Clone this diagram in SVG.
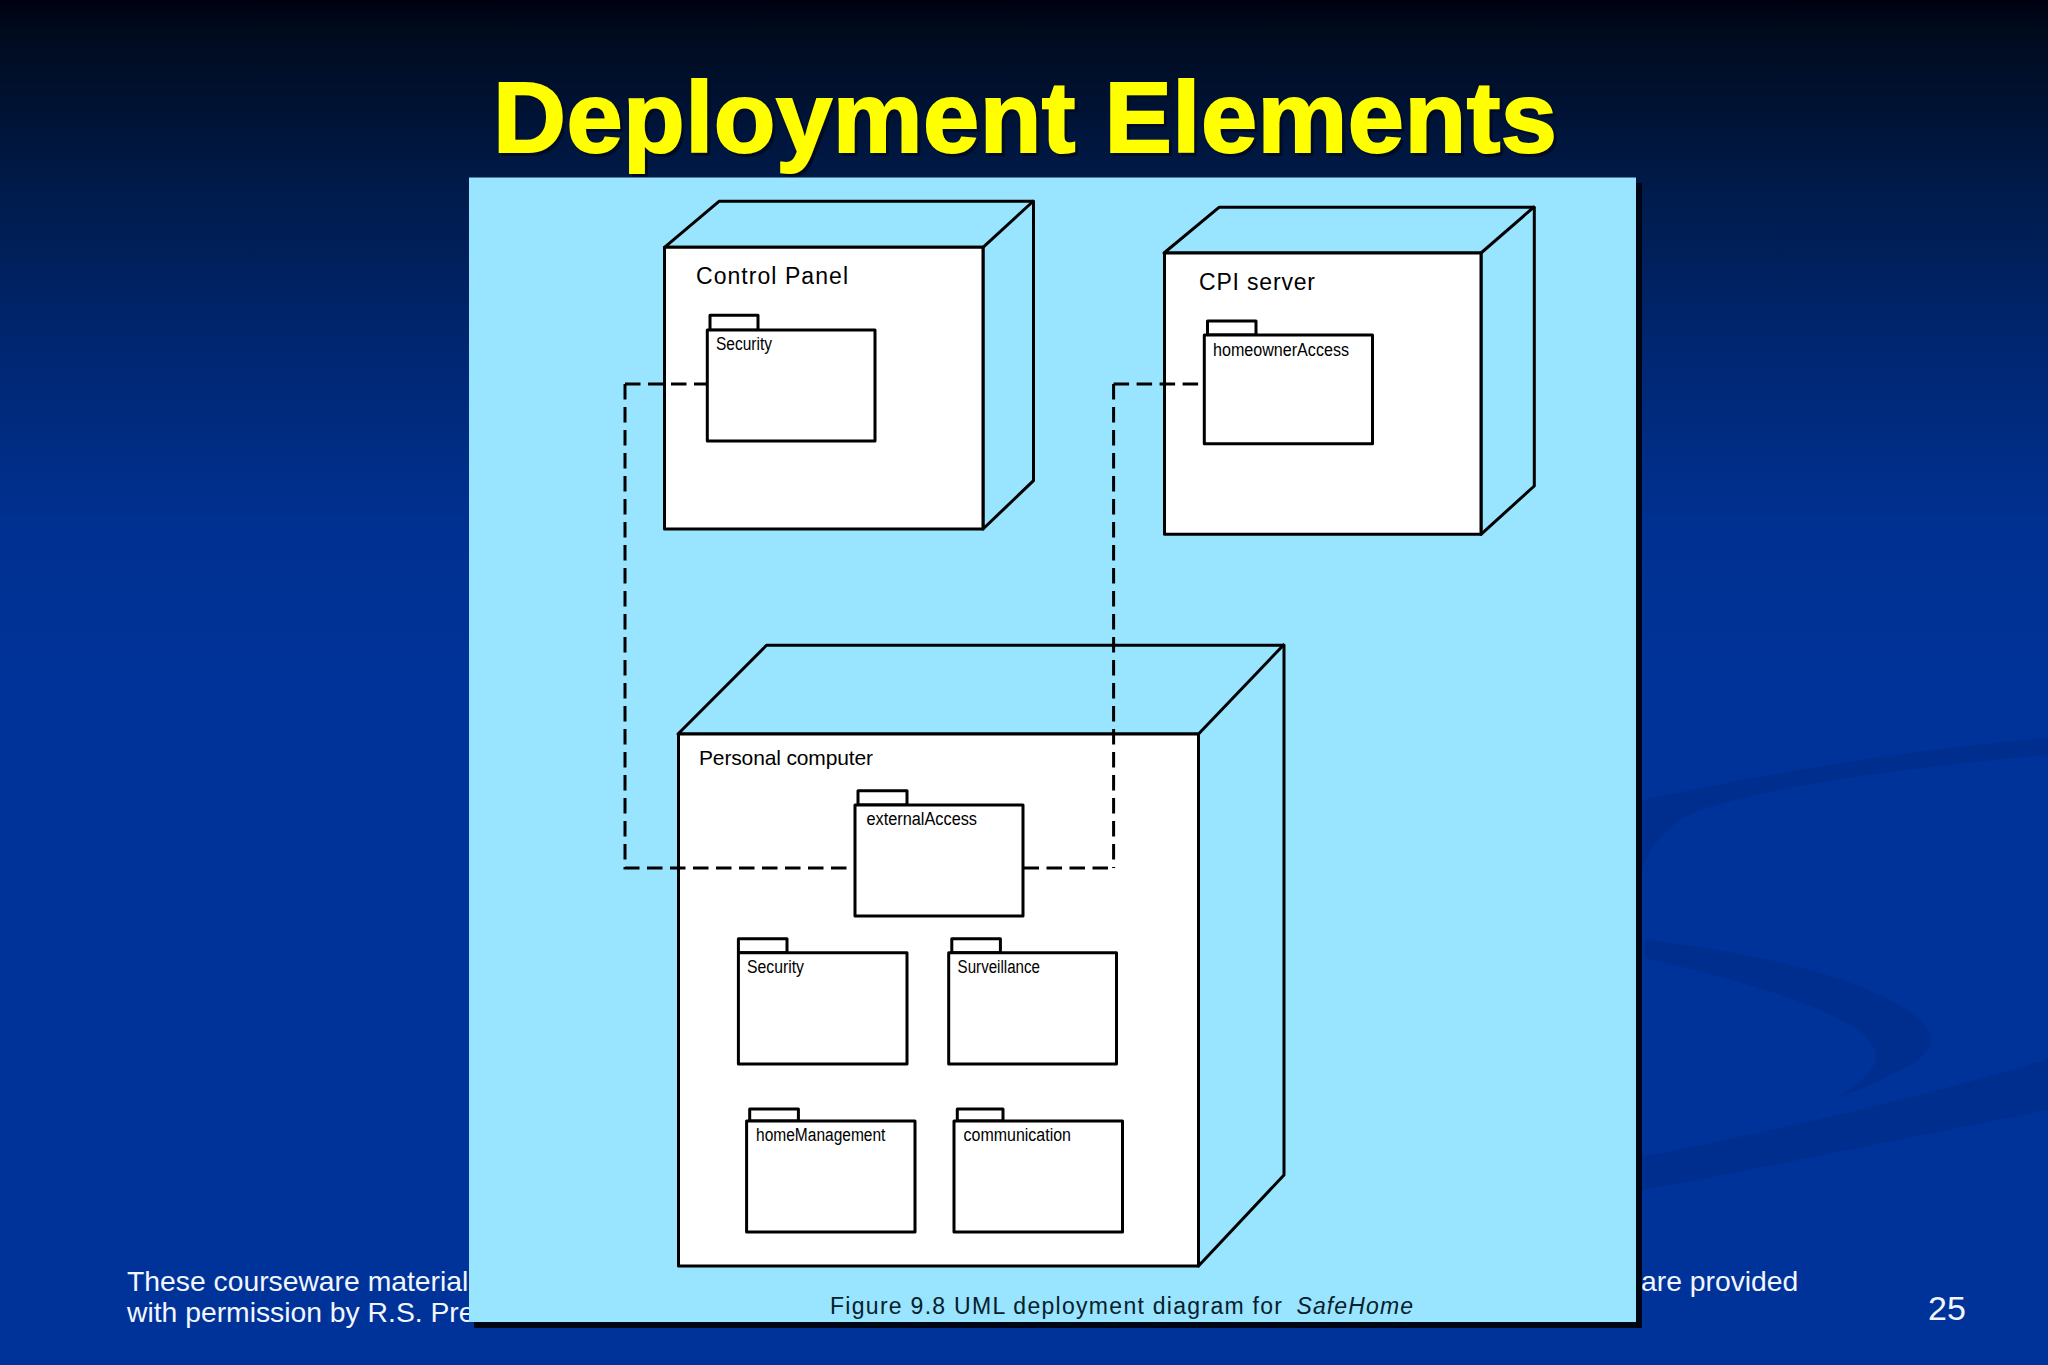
<svg xmlns="http://www.w3.org/2000/svg" width="2048" height="1365" viewBox="0 0 2048 1365">
<style>
.s{font-family:"Liberation Sans",Arial,sans-serif}
.box{fill:#fff;stroke:#000;stroke-width:3;stroke-linejoin:round}
.back{fill:#99e4fe;stroke:#000;stroke-width:3;stroke-linejoin:round}
.nl{font-size:23px;fill:#000}
.pl{font-size:18px;fill:#000}
.foot{font-size:28.300px;fill:#f2f6ff}
.dash{fill:none;stroke:#000;stroke-width:3;stroke-dasharray:15.5 7.5}
.sw{fill:#002e8f}
</style>
<defs>
<linearGradient id="bg" x1="0" y1="0" x2="0" y2="1">
<stop offset="0" stop-color="#000010"/>
<stop offset="0.02" stop-color="#000a1c"/>
<stop offset="0.09" stop-color="#001438"/>
<stop offset="0.16" stop-color="#001d52"/>
<stop offset="0.25" stop-color="#002670"/>
<stop offset="0.38" stop-color="#003090"/>
<stop offset="0.5" stop-color="#003399"/>
<stop offset="1" stop-color="#003399"/>
</linearGradient>
</defs>
<rect id="background" width="2048" height="1365" fill="url(#bg)"/>
<g id="swooshes">
<path class="sw" d="M1642 800C1760 775 1900 750 2048 738V755C1900 768 1780 785 1700 810C1670 822 1650 845 1642 870Z"/>
<path class="sw" d="M1645 940C1740 950 1860 975 1915 1015C1940 1035 1935 1055 1900 1070C1880 1082 1860 1090 1840 1096C1865 1080 1880 1065 1875 1050C1860 1015 1760 985 1645 958Z"/>
<path class="sw" d="M1642 1157C1780 1130 1930 1095 2048 1059V1110C1920 1135 1780 1165 1642 1190Z"/>
</g>
<text id="title-shadow" class="s" x="496" y="155" font-size="101" font-weight="700" fill="#000c26" stroke="#000c26" stroke-width="2" textLength="1064" lengthAdjust="spacing">Deployment Elements</text>
<text id="title" class="s" x="493" y="152" font-size="101" font-weight="700" fill="#ffff00" stroke="#ffff00" stroke-width="2" textLength="1064" lengthAdjust="spacing">Deployment Elements</text>
<text id="footer-1" class="s foot" x="127" y="1291">These courseware material</text>
<text id="footer-2" class="s foot" x="127" y="1322">with permission by R.S. Pre</text>
<text id="footer-3" class="s foot" x="1641" y="1291">are provided</text>
<text id="page" class="s" x="1928" y="1320" font-size="34" fill="#f2f6ff">25</text>
<rect id="panel-shadow" x="474" y="183" width="1168" height="1145" fill="#000614"/>
<rect id="panel" x="469" y="177.500" width="1167" height="1144.500" fill="#99e4fe"/>

<g id="node-control-panel">
<path class="back" d="M664.500 247.300L719 201.300H1033.500V480.700L983 529V247.300Z"/>
<path class="back" d="M983 247.300L1034 200.500" fill="none"/>
<rect class="box" x="664.500" y="247.300" width="318.500" height="281.700"/>
<text class="s nl" x="696" y="284" textLength="152" lengthAdjust="spacing">Control Panel</text>
<g id="pkg-security-cp">
<rect class="box" x="710" y="315.300" width="48" height="15"/>
<rect class="box" x="707.300" y="330" width="167.700" height="111"/>
<text class="s pl" x="716" y="350" textLength="56" lengthAdjust="spacingAndGlyphs">Security</text>
</g>
</g>

<g id="node-cpi-server">
<path class="back" d="M1164 253L1219 207.300H1534.300V486L1481 534.300V253Z"/>
<path class="back" d="M1481 253L1534.500 206.500" fill="none"/>
<rect class="box" x="1164.500" y="253" width="316.500" height="281.300"/>
<text class="s nl" x="1199" y="290" textLength="116" lengthAdjust="spacing">CPI server</text>
<g id="pkg-homeowner-access">
<rect class="box" x="1207.500" y="321" width="48.500" height="14"/>
<rect class="box" x="1204.300" y="335" width="168.200" height="108.700"/>
<text class="s pl" x="1213" y="355.700" textLength="136" lengthAdjust="spacingAndGlyphs">homeownerAccess</text>
</g>
</g>

<g id="node-personal-computer">
<path class="back" d="M678 734L766.500 645.300H1284V1175L1198.500 1266V734Z"/>
<path class="back" d="M1198.500 734L1284.500 644" fill="none"/>
<rect class="box" x="678.500" y="734" width="520" height="532"/>
<text class="s nl" style="font-size:21px" x="699" y="765" textLength="174" lengthAdjust="spacing">Personal computer</text>
<g id="pkg-external-access">
<rect class="box" x="858" y="790.700" width="49" height="14.300"/>
<rect class="box" x="855" y="805" width="168" height="111"/>
<text class="s pl" x="866.500" y="825" textLength="110.500" lengthAdjust="spacingAndGlyphs">externalAccess</text>
</g>
<g id="pkg-security-pc">
<rect class="box" x="738.400" y="938.700" width="48.600" height="14"/>
<rect class="box" x="738.400" y="952.700" width="168.600" height="111.300"/>
<text class="s pl" x="747" y="973" textLength="57" lengthAdjust="spacingAndGlyphs">Security</text>
</g>
<g id="pkg-surveillance">
<rect class="box" x="951.800" y="938.700" width="48.600" height="14"/>
<rect class="box" x="948.700" y="952.700" width="167.800" height="111.300"/>
<text class="s pl" x="957.600" y="973" textLength="82.400" lengthAdjust="spacingAndGlyphs">Surveillance</text>
</g>
<g id="pkg-home-management">
<rect class="box" x="749.700" y="1109" width="48.700" height="12"/>
<rect class="box" x="746.600" y="1121" width="168.400" height="111"/>
<text class="s pl" x="756" y="1141" textLength="129.400" lengthAdjust="spacingAndGlyphs">homeManagement</text>
</g>
<g id="pkg-communication">
<rect class="box" x="957.300" y="1109" width="45.700" height="12"/>
<rect class="box" x="954" y="1121" width="168.500" height="111"/>
<text class="s pl" x="963.600" y="1141" textLength="107.400" lengthAdjust="spacingAndGlyphs">communication</text>
</g>
</g>

<g id="connectors">
<path class="dash" d="M625 384H707"/>
<path class="dash" d="M625 384V868H854"/>
<path class="dash" d="M1113.600 384H1204"/>
<path class="dash" d="M1113.600 384V868"/>
<path class="dash" d="M1023.500 868H1113"/>
</g>

<text id="caption" class="s" y="1314" font-size="23" fill="#06202c"><tspan x="830" textLength="452" lengthAdjust="spacing">Figure 9.8 UML deployment diagram for</tspan><tspan x="1296.500" font-style="italic" textLength="116.500" lengthAdjust="spacing">SafeHome</tspan></text>
</svg>
